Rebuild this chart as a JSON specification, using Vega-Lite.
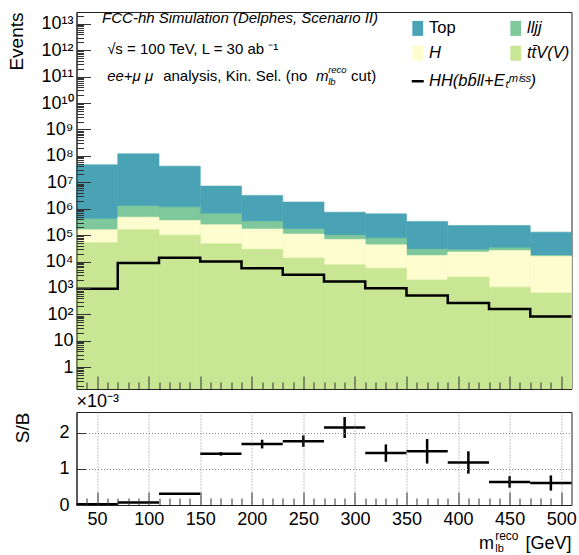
{
  "$schema": "https://vega.github.io/schema/vega-lite/v6.json",
  "background": "white",
  "padding": {"left": 6.5, "top": 10, "right": 6, "bottom": 0},
  "bounds": "flush",
  "spacing": 23,
  "datasets": {
    "bkg": [
      {"lo": 30, "hi": 70, "proc": "tt̄V(V)", "n": 51000},
      {"lo": 30, "hi": 70, "proc": "H", "n": 109000},
      {"lo": 30, "hi": 70, "proc": "lljj", "n": 250000},
      {"lo": 30, "hi": 70, "proc": "Top", "n": 45590000},
      {"lo": 70, "hi": 110, "proc": "tt̄V(V)", "n": 160000},
      {"lo": 70, "hi": 110, "proc": "H", "n": 320000},
      {"lo": 70, "hi": 110, "proc": "lljj", "n": 780000},
      {"lo": 70, "hi": 110, "proc": "Top", "n": 118740000},
      {"lo": 110, "hi": 150, "proc": "tt̄V(V)", "n": 100000},
      {"lo": 110, "hi": 150, "proc": "H", "n": 260000},
      {"lo": 110, "hi": 150, "proc": "lljj", "n": 790000},
      {"lo": 110, "hi": 150, "proc": "Top", "n": 39850000},
      {"lo": 150, "hi": 190, "proc": "tt̄V(V)", "n": 47000},
      {"lo": 150, "hi": 190, "proc": "H", "n": 203000},
      {"lo": 150, "hi": 190, "proc": "lljj", "n": 390000},
      {"lo": 150, "hi": 190, "proc": "Top", "n": 6560000},
      {"lo": 190, "hi": 230, "proc": "tt̄V(V)", "n": 29000},
      {"lo": 190, "hi": 230, "proc": "H", "n": 141000},
      {"lo": 190, "hi": 230, "proc": "lljj", "n": 160000},
      {"lo": 190, "hi": 230, "proc": "Top", "n": 2870000},
      {"lo": 230, "hi": 270, "proc": "tt̄V(V)", "n": 13500},
      {"lo": 230, "hi": 270, "proc": "H", "n": 96500},
      {"lo": 230, "hi": 270, "proc": "lljj", "n": 60000},
      {"lo": 230, "hi": 270, "proc": "Top", "n": 1630000},
      {"lo": 270, "hi": 310, "proc": "tt̄V(V)", "n": 7500},
      {"lo": 270, "hi": 310, "proc": "H", "n": 61500},
      {"lo": 270, "hi": 310, "proc": "lljj", "n": 31000},
      {"lo": 270, "hi": 310, "proc": "Top", "n": 640000},
      {"lo": 310, "hi": 350, "proc": "tt̄V(V)", "n": 5600},
      {"lo": 310, "hi": 350, "proc": "H", "n": 37400},
      {"lo": 310, "hi": 350, "proc": "lljj", "n": 34000},
      {"lo": 310, "hi": 350, "proc": "Top", "n": 563000},
      {"lo": 350, "hi": 390, "proc": "tt̄V(V)", "n": 2000},
      {"lo": 350, "hi": 390, "proc": "H", "n": 15000},
      {"lo": 350, "hi": 390, "proc": "lljj", "n": 12000},
      {"lo": 350, "hi": 390, "proc": "Top", "n": 301000},
      {"lo": 390, "hi": 430, "proc": "tt̄V(V)", "n": 2600},
      {"lo": 390, "hi": 430, "proc": "H", "n": 20400},
      {"lo": 390, "hi": 430, "proc": "lljj", "n": 5000},
      {"lo": 390, "hi": 430, "proc": "Top", "n": 202000},
      {"lo": 430, "hi": 470, "proc": "tt̄V(V)", "n": 1070},
      {"lo": 430, "hi": 470, "proc": "H", "n": 24930},
      {"lo": 430, "hi": 470, "proc": "lljj", "n": 7000},
      {"lo": 430, "hi": 470, "proc": "Top", "n": 197000},
      {"lo": 470, "hi": 510, "proc": "tt̄V(V)", "n": 650},
      {"lo": 470, "hi": 510, "proc": "H", "n": 15350},
      {"lo": 470, "hi": 510, "proc": "lljj", "n": 1000},
      {"lo": 470, "hi": 510, "proc": "Top", "n": 113000}
    ],
    "sig": [
      {"x": 30, "v": 930}, {"x": 70, "v": 8900}, {"x": 110, "v": 14000},
      {"x": 150, "v": 10000}, {"x": 190, "v": 5600}, {"x": 230, "v": 3150},
      {"x": 270, "v": 1770}, {"x": 310, "v": 980}, {"x": 350, "v": 520},
      {"x": 390, "v": 270}, {"x": 430, "v": 160}, {"x": 470, "v": 83},
      {"x": 510, "v": 83}
    ],
    "sb": [
      {"lo": 30, "hi": 70, "mid": 50, "v": 0.02, "vlo": 0.015, "vhi": 0.025},
      {"lo": 70, "hi": 110, "mid": 90, "v": 0.07, "vlo": 0.06, "vhi": 0.08},
      {"lo": 110, "hi": 150, "mid": 130, "v": 0.31, "vlo": 0.29, "vhi": 0.33},
      {"lo": 150, "hi": 190, "mid": 170, "v": 1.42, "vlo": 1.37, "vhi": 1.47},
      {"lo": 190, "hi": 230, "mid": 210, "v": 1.69, "vlo": 1.57, "vhi": 1.81},
      {"lo": 230, "hi": 270, "mid": 250, "v": 1.77, "vlo": 1.61, "vhi": 1.93},
      {"lo": 270, "hi": 310, "mid": 290, "v": 2.15, "vlo": 1.86, "vhi": 2.44},
      {"lo": 310, "hi": 350, "mid": 330, "v": 1.44, "vlo": 1.2, "vhi": 1.68},
      {"lo": 350, "hi": 390, "mid": 370, "v": 1.49, "vlo": 1.15, "vhi": 1.83},
      {"lo": 390, "hi": 430, "mid": 410, "v": 1.18, "vlo": 0.87, "vhi": 1.49},
      {"lo": 430, "hi": 470, "mid": 450, "v": 0.64, "vlo": 0.48, "vhi": 0.8},
      {"lo": 470, "hi": 510, "mid": 490, "v": 0.61, "vlo": 0.4, "vhi": 0.82}
    ]
  },
  "vconcat": [
    {
      "width": 495,
      "height": 377,
      "resolve": {"scale": {"x": "shared", "y": "shared"}, "axis": {"x": "independent", "y": "independent"}},
      "layer": [
        {
          "data": {"name": "bkg"},
          "transform": [{"stack": "n", "groupby": ["lo"], "as": ["c0", "c1"]}],
          "encoding": {
            "x": {"field": "lo", "type": "quantitative",
              "scale": {"domain": [30, 510], "nice": false, "zero": false},
              "axis": {"orient": "bottom", "title": null,
                "values": [50,100,150,200,250,300,350,400,450,500],
                "labels": false, "grid": false, "zindex": 1,
                "tickSize": -13, "tickWidth": 1, "tickColor": "#333", "domainColor": "#222"
              }},
            "x2": {"field": "hi"},
            "y": {"field": "c1", "type": "quantitative", "stack": null,
              "scale": {"type": "log", "domain": [0.15, 2.8e13], "nice": false},
              "axis": {"orient": "left", "title": "Events",
                "values": [1,10,100,1e3,1e4,1e5,1e6,1e7,1e8,1e9,1e10,1e11,1e12,1e13],
                "labelExpr": "round(log(datum.value)/LN10) == 0 ? '1' : (round(log(datum.value)/LN10) == 1 ? '10' : '10' + (round(log(datum.value)/LN10) >= 10 ? '¹' : '') + ['⁰','¹','²','³','⁴','⁵','⁶','⁷','⁸','⁹'][round(log(datum.value)/LN10) % 10])",
                "tickSize": -14, "tickColor": "#333", "domainColor": "#222", "zindex": 1,
                "labelFontSize": 18, "labelPadding": 17.5, "labelOverlap": false, "labelBound": false, "labelFlush": false,
                "grid": false,
                "titleFontSize": 19, "titleAnchor": "end", "titlePadding": 14
              }},
            "y2": {"datum": 0.15},
            "fill": {"field": "proc", "type": "nominal",
              "scale": {"domain": ["Top", "lljj", "H", "tt̄V(V)"], "range": ["#4aa3b5", "#7ec89b", "#fefdd0", "#c8e694"]},
              "legend": {"orient": "none", "legendX": 333, "legendY": 8, "columns": 2, "direction": "horizontal", "columnPadding": 51, "rowPadding": 8,
                "title": null, "symbolType": "M-0.72,-1H0.72V1H-0.72Z", "symbolSize": 225, "symbolStrokeWidth": 0, "symbolOpacity": 1,
                "labelFontSize": 16.5, "labelOffset": 3, "labelColor": "#000",
                "labelFontStyle": {"expr": "datum.label == 'Top' ? 'normal' : 'italic'"}}}
          },
          "layer": [
            {"transform": [{"filter": "datum.proc == 'Top'"}], "mark": {"type": "bar", "stroke": "#4aa3b5", "strokeWidth": 0.6}},
            {"transform": [{"filter": "datum.proc == 'lljj'"}], "mark": {"type": "bar", "stroke": "#7ec89b", "strokeWidth": 0.6}},
            {"transform": [{"filter": "datum.proc == 'H'"}], "mark": {"type": "bar", "stroke": "#fefdd0", "strokeWidth": 0.6}},
            {"transform": [{"filter": "datum.proc == 'tt̄V(V)'"}], "mark": {"type": "bar", "stroke": "#c8e694", "strokeWidth": 0.6}}
          ]
        },
        {
          "data": {"name": "sig"},
          "mark": {"type": "line", "interpolate": "step-after", "strokeWidth": 2.5},
          "encoding": {
            "x": {"field": "x", "type": "quantitative",
              "axis": {"orient": "bottom", "title": null, "labels": false, "domain": false, "grid": false, "zindex": 1,
                "values": [40,60,70,80,90,110,120,130,140,160,170,180,190,210,220,230,240,260,270,280,290,310,320,330,340,360,370,380,390,410,420,430,440,460,470,480,490],
                "tickSize": -7, "tickColor": "#333"}},
            "y": {"field": "v", "type": "quantitative",
              "axis": {"orient": "left", "title": null, "labels": false, "domain": false, "grid": false, "zindex": 1,
                "values": [0.2,0.3,0.4,0.5,0.6,0.7,0.8,0.9,2,3,4,5,6,7,8,9,20,30,40,50,60,70,80,90,200,300,400,500,600,700,800,900,2e3,3e3,4e3,5e3,6e3,7e3,8e3,9e3,2e4,3e4,4e4,5e4,6e4,7e4,8e4,9e4,2e5,3e5,4e5,5e5,6e5,7e5,8e5,9e5,2e6,3e6,4e6,5e6,6e6,7e6,8e6,9e6,2e7,3e7,4e7,5e7,6e7,7e7,8e7,9e7,2e8,3e8,4e8,5e8,6e8,7e8,8e8,9e8,2e9,3e9,4e9,5e9,6e9,7e9,8e9,9e9,2e10,3e10,4e10,5e10,6e10,7e10,8e10,9e10,2e11,3e11,4e11,5e11,6e11,7e11,8e11,9e11,2e12,3e12,4e12,5e12,6e12,7e12,8e12,9e12,2e13],
                "tickSize": -7, "tickColor": "#333"}},
            "stroke": {"datum": "HH(bb̄ll+Eₜᵐⁱˢˢ)", "type": "nominal",
              "scale": {"range": ["#000000"]},
              "legend": {"orient": "none", "legendX": 333, "legendY": 61, "title": null,
                "symbolType": "stroke", "symbolSize": 144, "symbolStrokeWidth": 2.5,
                "labelFontSize": 16.5, "labelOffset": 3, "labelFontStyle": "italic", "labelColor": "#000"}}
          }
        },
        {
          "data": {"values": [{"t": "FCC-hh Simulation (Delphes, Scenario II)"}]},
          "mark": {"type": "text", "align": "left", "baseline": "middle", "fontSize": 15, "fontStyle": "italic"},
          "encoding": {"x": {"datum": 54.8, "type": "quantitative", "axis": null}, "y": {"datum": 1.6e13, "type": "quantitative", "axis": null}, "text": {"field": "t"}}
        },
        {
          "data": {"values": [{"t": "√s = 100 TeV, L = 30 ab ⁻¹"}]},
          "mark": {"type": "text", "align": "left", "baseline": "middle", "fontSize": 15},
          "encoding": {"x": {"datum": 59.7, "type": "quantitative", "axis": null}, "y": {"datum": 1.1e12, "type": "quantitative", "axis": null}, "text": {"field": "t"}}
        },
        {
          "data": {"values": [{"t": "ee+μ μ"}]},
          "mark": {"type": "text", "align": "left", "baseline": "middle", "fontSize": 15, "fontStyle": "italic"},
          "encoding": {"x": {"datum": 59.7, "type": "quantitative", "axis": null}, "y": {"datum": 1.05e11, "type": "quantitative", "axis": null}, "text": {"field": "t"}}
        },
        {
          "data": {"values": [{"t": "analysis, Kin. Sel. (no"}]},
          "mark": {"type": "text", "align": "left", "baseline": "middle", "fontSize": 15},
          "encoding": {"x": {"datum": 114, "type": "quantitative", "axis": null}, "y": {"datum": 1.05e11, "type": "quantitative", "axis": null}, "text": {"field": "t"}}
        },
        {
          "data": {"values": [{"t": "m"}]},
          "mark": {"type": "text", "align": "left", "baseline": "middle", "fontSize": 15, "fontStyle": "italic"},
          "encoding": {"x": {"datum": 262.3, "type": "quantitative", "axis": null}, "y": {"datum": 1.05e11, "type": "quantitative", "axis": null}, "text": {"field": "t"}}
        },
        {
          "data": {"values": [{"t": "reco"}]},
          "mark": {"type": "text", "align": "left", "baseline": "middle", "fontSize": 9.5, "fontStyle": "italic", "dy": -6},
          "encoding": {"x": {"datum": 274, "type": "quantitative", "axis": null}, "y": {"datum": 1.05e11, "type": "quantitative", "axis": null}, "text": {"field": "t"}}
        },
        {
          "data": {"values": [{"t": "lb"}]},
          "mark": {"type": "text", "align": "left", "baseline": "middle", "fontSize": 9.5, "fontStyle": "italic", "dy": 6},
          "encoding": {"x": {"datum": 274, "type": "quantitative", "axis": null}, "y": {"datum": 1.05e11, "type": "quantitative", "axis": null}, "text": {"field": "t"}}
        },
        {
          "data": {"values": [{"t": "cut)"}]},
          "mark": {"type": "text", "align": "left", "baseline": "middle", "fontSize": 15},
          "encoding": {"x": {"datum": 296.3, "type": "quantitative", "axis": null}, "y": {"datum": 1.05e11, "type": "quantitative", "axis": null}, "text": {"field": "t"}}
        }
      ]
    },
    {
      "width": 495,
      "height": 93,
      "title": {"text": "×10⁻³", "anchor": "start", "frame": "group", "fontSize": 18, "fontWeight": "normal", "offset": 1, "font": "Liberation Sans", "color": "#000"},
      "resolve": {"scale": {"x": "shared", "y": "shared"}, "axis": {"x": "independent", "y": "independent"}},
      "layer": [
        {
          "data": {"name": "sb"},
          "mark": {"type": "rule", "strokeWidth": 2.5, "color": "#000"},
          "encoding": {
            "x": {"field": "lo", "type": "quantitative",
              "scale": {"domain": [30, 510], "nice": false, "zero": false},
              "axis": {"orient": "bottom", "title": null,
                "values": [50,100,150,200,250,300,350,400,450,500],
                "labelFontSize": 18, "labelPadding": 18, "labelOverlap": false, "labelFlush": false, "labelBound": false,
                "tickSize": -13, "tickColor": "#333", "domainColor": "#222", "zindex": 1,
                "grid": true, "gridDash": [1, 2], "gridWidth": 1, "gridColor": "#888"
              }},
            "x2": {"field": "hi"},
            "y": {"field": "v", "type": "quantitative",
              "scale": {"domain": [0, 2.58], "nice": false},
              "axis": {"orient": "left", "title": "S/B", "values": [0, 1, 2], "labelFontSize": 18, "labelPadding": 16.4, "labelOverlap": false,
                "tickSize": -9, "tickColor": "#333", "domainColor": "#222", "zindex": 1,
                "grid": true, "gridDash": [1, 2], "gridColor": "#888", "gridWidth": 1,
                "titleFontSize": 19, "titleAnchor": "end", "titlePadding": 27}}
          }
        },
        {
          "data": {"name": "sb"},
          "mark": {"type": "rule", "strokeWidth": 2.5, "color": "#000"},
          "encoding": {
            "x": {"field": "mid", "type": "quantitative",
              "axis": {"orient": "bottom", "title": null, "labels": false, "domain": false, "grid": false, "zindex": 1,
                "values": [40,60,70,80,90,110,120,130,140,160,170,180,190,210,220,230,240,260,270,280,290,310,320,330,340,360,370,380,390,410,420,430,440,460,470,480,490],
                "tickSize": -7, "tickColor": "#333"}},
            "y": {"field": "vlo", "type": "quantitative", "axis": null},
            "y2": {"field": "vhi"}
          }
        },
        {
          "data": {"values": [{"t": "m"}]},
          "mark": {"type": "text", "align": "left", "baseline": "middle", "fontSize": 18, "dy": 39},
          "encoding": {"x": {"datum": 420.4, "type": "quantitative", "axis": null}, "y": {"datum": 0, "type": "quantitative", "axis": null}, "text": {"field": "t"}}
        },
        {
          "data": {"values": [{"t": "reco"}]},
          "mark": {"type": "text", "align": "left", "baseline": "middle", "fontSize": 12, "dy": 31},
          "encoding": {"x": {"datum": 436, "type": "quantitative", "axis": null}, "y": {"datum": 0, "type": "quantitative", "axis": null}, "text": {"field": "t"}}
        },
        {
          "data": {"values": [{"t": "lb"}]},
          "mark": {"type": "text", "align": "left", "baseline": "middle", "fontSize": 11, "dy": 44},
          "encoding": {"x": {"datum": 436, "type": "quantitative", "axis": null}, "y": {"datum": 0, "type": "quantitative", "axis": null}, "text": {"field": "t"}}
        },
        {
          "data": {"values": [{"t": "[GeV]"}]},
          "mark": {"type": "text", "align": "right", "baseline": "middle", "fontSize": 18, "dy": 39},
          "encoding": {"x": {"datum": 510, "type": "quantitative", "axis": null}, "y": {"datum": 0, "type": "quantitative", "axis": null}, "text": {"field": "t"}}
        }
      ]
    }
  ],
  "config": {
    "font": "Liberation Sans",
    "view": {"stroke": "#222", "strokeWidth": 1},
    "axis": {"labelFont": "Liberation Sans", "titleFont": "Liberation Sans", "labelColor": "#000", "titleColor": "#000", "titleFontWeight": "normal", "labelOverlap": false},
    "legend": {"labelFont": "Liberation Sans"},
    "text": {"font": "Liberation Sans", "color": "#000"}
  }
}
